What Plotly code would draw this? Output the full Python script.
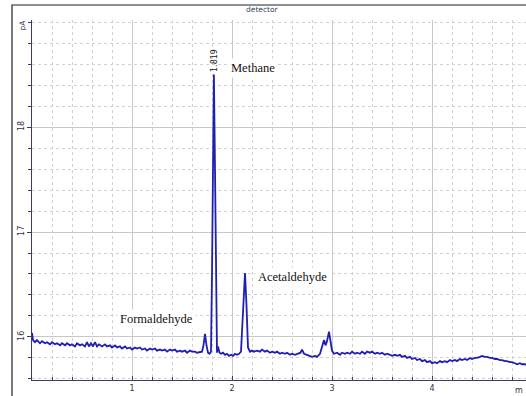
import plotly.graph_objects as go

# Chromatogram trace (time in min, signal in pA)
time_min = [
    0.00, 0.01, 0.03, 0.05, 0.08, 0.10, 0.13, 0.15, 0.18, 0.20, 0.23, 0.25, 0.28, 0.30, 0.33, 0.35,
    0.38, 0.40, 0.43, 0.45, 0.48, 0.50, 0.53, 0.55, 0.57, 0.59, 0.61, 0.63, 0.65, 0.67, 0.70, 0.73,
    0.75, 0.78, 0.80, 0.83, 0.85, 0.88, 0.90, 0.93, 0.95, 0.98, 1.00, 1.03, 1.05, 1.08, 1.10, 1.13,
    1.15, 1.18, 1.20, 1.23, 1.25, 1.28, 1.30, 1.33, 1.35, 1.38, 1.40, 1.43, 1.45, 1.48, 1.50, 1.53,
    1.55, 1.58, 1.60, 1.63, 1.65, 1.68, 1.70, 1.715, 1.73, 1.745, 1.76, 1.775, 1.79, 1.80, 1.81,
    1.819, 1.83, 1.84, 1.85, 1.86, 1.875, 1.89, 1.91, 1.93, 1.95, 1.97, 1.99, 2.01, 2.03, 2.05,
    2.07, 2.09, 2.105, 2.12, 2.13, 2.145, 2.16, 2.18, 2.20, 2.22, 2.25, 2.28, 2.30, 2.33, 2.35,
    2.38, 2.40, 2.43, 2.45, 2.48, 2.50, 2.53, 2.55, 2.58, 2.60, 2.63, 2.66, 2.685, 2.70, 2.72,
    2.75, 2.78, 2.80, 2.83, 2.85, 2.88, 2.905, 2.92, 2.935, 2.95, 2.97, 2.985, 3.00, 3.02, 3.05,
    3.08, 3.10, 3.13, 3.15, 3.18, 3.20, 3.23, 3.25, 3.28, 3.30, 3.33, 3.35, 3.38, 3.40, 3.43, 3.45,
    3.48, 3.50, 3.53, 3.55, 3.58, 3.60, 3.63, 3.65, 3.68, 3.70, 3.73, 3.75, 3.78, 3.80, 3.83, 3.85,
    3.88, 3.90, 3.93, 3.95, 3.98, 4.00, 4.03, 4.05, 4.08, 4.10, 4.13, 4.15, 4.18, 4.20, 4.23, 4.25,
    4.28, 4.30, 4.33, 4.35, 4.38, 4.40, 4.43, 4.45, 4.48, 4.50, 4.53, 4.55, 4.58, 4.60, 4.63, 4.65,
    4.68, 4.70, 4.73, 4.75, 4.78, 4.80, 4.83, 4.85, 4.88, 4.90, 4.93, 4.95,
]
signal_pA = [
    16.04, 15.97, 15.95, 15.97, 15.94, 15.96, 15.94, 15.95, 15.93, 15.95, 15.93, 15.94, 15.92, 15.94, 15.92, 15.94,
    15.92, 15.93, 15.91, 15.94, 15.92, 15.93, 15.91, 15.95, 15.91, 15.94, 15.91, 15.95, 15.91, 15.93, 15.91, 15.93,
    15.91, 15.92, 15.90, 15.92, 15.90, 15.91, 15.89, 15.91, 15.89, 15.90, 15.88, 15.90, 15.89, 15.90, 15.88, 15.89,
    15.87, 15.89, 15.88, 15.89, 15.87, 15.88, 15.87, 15.88, 15.86, 15.88, 15.87, 15.88, 15.86, 15.87, 15.86, 15.87,
    15.85, 15.87, 15.86, 15.86, 15.85, 15.86, 15.86, 15.92, 16.03, 15.92, 15.85, 15.84, 15.86, 16.60, 18.20,
    18.50, 17.60, 16.30, 15.85, 15.91, 15.85, 15.84, 15.85, 15.83, 15.84, 15.82, 15.83, 15.82, 15.84, 15.83,
    15.84, 15.86, 16.20, 16.55, 16.61, 16.30, 15.90, 15.86, 15.87, 15.86, 15.87, 15.86, 15.88, 15.86, 15.87,
    15.85, 15.86, 15.85, 15.86, 15.84, 15.85, 15.84, 15.85, 15.83, 15.84, 15.83, 15.84, 15.85, 15.88, 15.84,
    15.83, 15.82, 15.81, 15.82, 15.81, 15.84, 15.92, 15.97, 15.92, 15.96, 16.05, 15.97, 15.87, 15.84, 15.85,
    15.83, 15.85, 15.84, 15.85, 15.84, 15.86, 15.84, 15.85, 15.84, 15.86, 15.84, 15.86, 15.85, 15.86, 15.84, 15.85,
    15.84, 15.85, 15.83, 15.84, 15.83, 15.82, 15.83, 15.82, 15.83, 15.81, 15.82, 15.80, 15.81, 15.79, 15.80, 15.78,
    15.79, 15.77, 15.78, 15.76, 15.77, 15.75, 15.76, 15.75, 15.77, 15.76, 15.77, 15.76, 15.78, 15.77, 15.78, 15.77,
    15.79, 15.78, 15.79, 15.78, 15.80, 15.79, 15.80, 15.80, 15.81, 15.82, 15.81, 15.81, 15.80, 15.80, 15.79, 15.79,
    15.78, 15.78, 15.77, 15.77, 15.76, 15.76, 15.75, 15.74, 15.75, 15.74, 15.74, 15.73,
]

x_tick_vals = [1, 2, 3, 4]
x_tick_text = ["1", "2", "3", "4"]
y_tick_vals = [16, 17, 18]
y_tick_text = ["16", "17", "18"]

peak_names = ["Methane", "Acetaldehyde", "Formaldehyde"]
peak_label_x = [2.21, 2.60, 1.24]
peak_label_y = [18.56, 16.57, 16.17]
rt_label = "1.819"
rt_x = 1.819
rt_y = 18.50

fig = go.Figure()
fig.add_trace(go.Scatter(
    x=time_min, y=signal_pA, mode="lines",
    line=dict(color="#1f1fb0", width=1.8), showlegend=False, hoverinfo="skip",
))

axis_common = dict(
    showline=True, linecolor="#3a3a6e", linewidth=1.2, mirror=False,
    showgrid=True, gridcolor="#c8c8c8", gridwidth=1,
    tickfont=dict(family="DejaVu Sans", size=8, color="#333344"),
    zeroline=False, automargin=False,
)

fig.update_layout(
    width=526, height=396,
    margin=dict(l=32, r=0, t=20, b=16),
    paper_bgcolor="white", plot_bgcolor="white",
    xaxis=dict(
        range=[0, 4.94], tickvals=x_tick_vals, ticktext=x_tick_text,
        ticks="inside", ticklen=4, tickcolor="#3a3a6e",
        minor=dict(dtick=0.2, tick0=0, showgrid=True, gridcolor="#d0d0d0", griddash="3px,3px",
                   ticks="inside", ticklen=3, tickcolor="#3a3a6e"),
        **axis_common,
    ),
    yaxis=dict(
        range=[15.59, 19.02], tickvals=y_tick_vals, ticktext=y_tick_text, tickangle=-90,
        ticks="outside", ticklen=4, tickcolor="#3a3a6e",
        minor=dict(dtick=0.2, tick0=0, showgrid=True, gridcolor="#d0d0d0", griddash="3px,3px",
                   ticks="outside", ticklen=3, tickcolor="#3a3a6e"),
        **axis_common,
    ),
)

annotations = []
for name, lx, ly in zip(peak_names, peak_label_x, peak_label_y):
    annotations.append(dict(
        x=lx, y=ly, text=name, showarrow=False, xanchor="center", yanchor="middle",
        font=dict(family="Liberation Serif", size=12.5, color="#111111"),
        bgcolor="white", borderpad=2,
    ))
annotations.append(dict(
    x=rt_x, y=rt_y, text=rt_label, textangle=-90, showarrow=False,
    xanchor="center", yanchor="bottom", yshift=1,
    font=dict(family="DejaVu Sans", size=8, color="#222222"),
))
annotations.append(dict(
    xref="paper", yref="paper", x=0.4676, y=1.028, text="detector", showarrow=False,
    xanchor="center", yanchor="middle",
    font=dict(family="DejaVu Sans", size=7.5, color="#334466"),
))
annotations.append(dict(
    xref="paper", yref="paper", x=-0.02, y=0.985, text="pA", textangle=-90, showarrow=False,
    xanchor="center", yanchor="middle",
    font=dict(family="DejaVu Sans", size=7.5, color="#333344"),
))
annotations.append(dict(
    xref="paper", yref="paper", x=0.986, y=-0.028, text="m", showarrow=False,
    xanchor="center", yanchor="middle",
    font=dict(family="DejaVu Sans", size=8, color="#333344"),
))
fig.update_layout(annotations=annotations)

# outer window frame (left and top edges)
fig.add_shape(type="path", xref="paper", yref="paper",
              path="M -0.0405,-0.05 L -0.0405,1.0417 L 1.01,1.0417",
              line=dict(color="#222222", width=1.2))

fig.write_html(
    "out.html",
    config={"displayModeBar": False},
    post_script="document.body.style.margin='0';document.body.style.overflow='hidden';",
)
